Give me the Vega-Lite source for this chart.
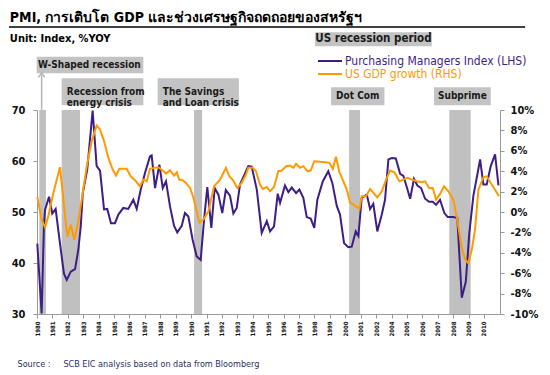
{
  "$schema": "https://vega.github.io/schema/vega-lite/v6.json",
  "width": 463,
  "height": 204,
  "autosize": "none",
  "padding": {"left": 37, "top": 110, "right": 50, "bottom": 61},
  "background": "white",
  "config": {
    "view": {"stroke": null},
    "font": "DejaVu Sans Condensed, DejaVu Sans, sans-serif",
    "axis": {"grid": false, "tickSize": 4, "tickColor": "#999999", "domainColor": "#999999", "labelFontWeight": "bold", "labelColor": "#111111"},
    "axisX": {"labelFontSize": 6, "labelPadding": 3, "labelBound": false, "labelFlush": false, "labelAngle": 270},
    "axisY": {"labelFontSize": 11}
  },
  "datasets": {
    "recessions": [
      {"start": 1980.15, "end": 1980.58},
      {"start": 1981.6, "end": 1982.79},
      {"start": 1990.19, "end": 1990.71},
      {"start": 2000.25, "end": 2000.96},
      {"start": 2007.75, "end": 2009.14}
    ],
    "boxes": [
      {"x1": 1998.04, "x2": 2006.61, "top": 85.24, "bottom": 82.48},
      {"x1": 1979.98, "x2": 1986.9, "top": 80.43, "bottom": 77.22},
      {"x1": 1981.6, "x2": 1986.9, "top": 76.24, "bottom": 70.92},
      {"x1": 1987.83, "x2": 1993.1, "top": 76.24, "bottom": 70.92},
      {"x1": 1999.08, "x2": 2003.08, "top": 74.45, "bottom": 70.92},
      {"x1": 2006.76, "x2": 2010.44, "top": 74.45, "bottom": 70.92}
    ],
    "notes": [
      {"kind": "legend", "year": 2001.83, "level": 83.86, "text": "US recession period"},
      {"kind": "box", "year": 1983.4, "level": 78.83, "text": "W-Shaped recession"},
      {"kind": "box", "year": 2000.81, "level": 72.7, "text": "Dot Com"},
      {"kind": "box", "year": 2008.6, "level": 72.7, "text": "Subprime"},
      {"kind": "two", "year": 1981.93, "level": 73.6, "text": "Recession from\nenergy crisis"},
      {"kind": "two", "year": 1988.16, "level": 73.6, "text": "The Savings\nand Loan crisis"},
      {"kind": "title", "year": 1978.24, "level": 87.3, "text": "PMI, การเติบโต GDP และช่วงเศรษฐกิจถดถอยของสหรัฐฯ"},
      {"kind": "sub", "year": 1978.24, "level": 84.0, "text": "Unit: Index, %YOY"}
    ],
    "underline": [{"x1": 1978.18, "x2": 2012.67, "level": 86.28}],
    "arrow": [{"year": 1980.3, "from": 70, "to": 76.9}],
    "pmi": [
      {"year": 1980.02, "value": 43.8}, {"year": 1980.30, "value": 30.1}, {"year": 1980.45, "value": 47.2},
      {"year": 1980.52, "value": 50.4}, {"year": 1980.78, "value": 53.0}, {"year": 1980.99, "value": 49.7},
      {"year": 1981.21, "value": 50.6}, {"year": 1981.38, "value": 46.5}, {"year": 1981.60, "value": 41.3},
      {"year": 1981.75, "value": 37.9}, {"year": 1981.93, "value": 36.7}, {"year": 1982.19, "value": 38.3},
      {"year": 1982.47, "value": 38.8}, {"year": 1982.68, "value": 42.6}, {"year": 1982.84, "value": 47.2},
      {"year": 1982.97, "value": 53.7}, {"year": 1983.26, "value": 58.3}, {"year": 1983.61, "value": 69.9},
      {"year": 1983.87, "value": 59.0}, {"year": 1984.09, "value": 58.1}, {"year": 1984.35, "value": 50.5},
      {"year": 1984.56, "value": 50.6}, {"year": 1984.80, "value": 47.8}, {"year": 1985.06, "value": 47.8},
      {"year": 1985.28, "value": 49.5}, {"year": 1985.60, "value": 50.8}, {"year": 1985.92, "value": 50.6},
      {"year": 1986.25, "value": 52.4}, {"year": 1986.47, "value": 50.6}, {"year": 1986.73, "value": 54.4},
      {"year": 1987.01, "value": 57.7}, {"year": 1987.33, "value": 60.9}, {"year": 1987.44, "value": 61.1},
      {"year": 1987.66, "value": 54.7}, {"year": 1987.94, "value": 59.3}, {"year": 1988.16, "value": 54.7},
      {"year": 1988.37, "value": 56.0}, {"year": 1988.63, "value": 51.1}, {"year": 1988.89, "value": 47.3},
      {"year": 1989.10, "value": 46.0}, {"year": 1989.39, "value": 47.3}, {"year": 1989.60, "value": 49.8},
      {"year": 1989.82, "value": 49.1}, {"year": 1990.10, "value": 44.5}, {"year": 1990.36, "value": 41.3},
      {"year": 1990.62, "value": 40.6}, {"year": 1990.84, "value": 48.5}, {"year": 1991.05, "value": 54.9},
      {"year": 1991.31, "value": 46.9}, {"year": 1991.53, "value": 54.7}, {"year": 1991.77, "value": 53.4},
      {"year": 1992.02, "value": 49.8}, {"year": 1992.25, "value": 54.3}, {"year": 1992.52, "value": 53.2},
      {"year": 1992.74, "value": 49.7}, {"year": 1992.96, "value": 50.8}, {"year": 1993.17, "value": 55.4},
      {"year": 1993.71, "value": 59.0}, {"year": 1993.93, "value": 58.9}, {"year": 1994.26, "value": 54.4},
      {"year": 1994.58, "value": 45.9}, {"year": 1994.91, "value": 48.2}, {"year": 1995.12, "value": 46.2},
      {"year": 1995.38, "value": 47.2}, {"year": 1995.62, "value": 53.6}, {"year": 1995.77, "value": 51.8},
      {"year": 1996.09, "value": 55.2}, {"year": 1996.31, "value": 53.9}, {"year": 1996.53, "value": 54.8},
      {"year": 1996.81, "value": 53.7}, {"year": 1997.02, "value": 54.4}, {"year": 1997.28, "value": 52.8},
      {"year": 1997.50, "value": 49.0}, {"year": 1997.76, "value": 48.7}, {"year": 1997.99, "value": 46.9},
      {"year": 1998.19, "value": 52.4}, {"year": 1998.54, "value": 56.0}, {"year": 1998.90, "value": 58.0},
      {"year": 1999.16, "value": 55.7}, {"year": 1999.45, "value": 51.2}, {"year": 1999.66, "value": 49.5},
      {"year": 1999.92, "value": 43.9}, {"year": 2000.20, "value": 43.1}, {"year": 2000.42, "value": 43.2},
      {"year": 2000.68, "value": 46.2}, {"year": 2000.85, "value": 45.3}, {"year": 2001.07, "value": 52.8},
      {"year": 2001.40, "value": 53.4}, {"year": 2001.61, "value": 50.6}, {"year": 2001.82, "value": 51.6},
      {"year": 2002.16, "value": 46.2}, {"year": 2002.74, "value": 49.5}, {"year": 2003.16, "value": 52.4},
      {"year": 2003.60, "value": 60.3}, {"year": 2004.02, "value": 60.6}, {"year": 2004.28, "value": 60.5},
      {"year": 2004.56, "value": 57.5}, {"year": 2004.77, "value": 57.1}, {"year": 2004.99, "value": 54.9},
      {"year": 2005.21, "value": 52.6}, {"year": 2005.46, "value": 56.5}, {"year": 2005.68, "value": 55.2},
      {"year": 2005.92, "value": 54.7}, {"year": 2006.18, "value": 52.6}, {"year": 2006.44, "value": 52.0},
      {"year": 2006.68, "value": 52.0}, {"year": 2006.89, "value": 51.4}, {"year": 2007.15, "value": 52.4},
      {"year": 2007.43, "value": 49.8}, {"year": 2007.65, "value": 49.0}, {"year": 2008.01, "value": 49.0},
      {"year": 2008.27, "value": 48.8}, {"year": 2008.56, "value": 33.2}, {"year": 2008.82, "value": 36.3},
      {"year": 2009.05, "value": 45.9}, {"year": 2009.31, "value": 53.1}, {"year": 2009.75, "value": 60.3},
      {"year": 2009.96, "value": 55.4}, {"year": 2010.18, "value": 55.4}, {"year": 2010.44, "value": 59.0},
      {"year": 2010.72, "value": 61.3}, {"year": 2010.94, "value": 55.2}
    ],
    "gdp": [
      {"year": 1980.02, "value": 1.48}, {"year": 1980.30, "value": -0.76}, {"year": 1980.52, "value": -1.48},
      {"year": 1980.73, "value": -0.43}, {"year": 1981.06, "value": 1.87}, {"year": 1981.49, "value": 4.39},
      {"year": 1981.71, "value": 1.21}, {"year": 1981.97, "value": -2.46}, {"year": 1982.19, "value": -1.25},
      {"year": 1982.42, "value": -2.73}, {"year": 1982.68, "value": -0.93}, {"year": 1982.90, "value": 1.21},
      {"year": 1983.23, "value": 4.49}, {"year": 1983.55, "value": 6.95}, {"year": 1983.87, "value": 8.49},
      {"year": 1984.09, "value": 8.1}, {"year": 1984.35, "value": 6.95}, {"year": 1984.63, "value": 5.31},
      {"year": 1984.91, "value": 4.16}, {"year": 1985.13, "value": 3.57}, {"year": 1985.34, "value": 4.23},
      {"year": 1985.82, "value": 4.23}, {"year": 1986.08, "value": 3.5}, {"year": 1986.42, "value": 3.01},
      {"year": 1986.68, "value": 2.52}, {"year": 1986.90, "value": 3.18}, {"year": 1987.12, "value": 3.01},
      {"year": 1987.33, "value": 4.23}, {"year": 1987.66, "value": 4.33}, {"year": 1987.87, "value": 4.39},
      {"year": 1988.16, "value": 4.06}, {"year": 1988.37, "value": 3.77}, {"year": 1988.63, "value": 4.1},
      {"year": 1988.89, "value": 3.57}, {"year": 1989.07, "value": 3.9}, {"year": 1989.23, "value": 3.18},
      {"year": 1989.45, "value": 3.11}, {"year": 1989.67, "value": 2.85}, {"year": 1989.93, "value": 2.36},
      {"year": 1990.17, "value": 1.3}, {"year": 1990.36, "value": 0.06}, {"year": 1990.53, "value": -1.02},
      {"year": 1990.79, "value": -0.76}, {"year": 1991.12, "value": 0.06}, {"year": 1991.49, "value": 2.52},
      {"year": 1991.88, "value": 3.18}, {"year": 1992.26, "value": 4.33}, {"year": 1992.48, "value": 3.5},
      {"year": 1992.74, "value": 3.08}, {"year": 1993.00, "value": 2.36}, {"year": 1993.28, "value": 2.85},
      {"year": 1993.56, "value": 3.67}, {"year": 1993.71, "value": 4.33}, {"year": 1994.00, "value": 4.33},
      {"year": 1994.21, "value": 4.0}, {"year": 1994.47, "value": 2.69}, {"year": 1994.65, "value": 2.26},
      {"year": 1994.91, "value": 2.46}, {"year": 1995.12, "value": 2.03}, {"year": 1995.38, "value": 2.46},
      {"year": 1995.66, "value": 4.0}, {"year": 1995.88, "value": 4.06}, {"year": 1996.16, "value": 4.49},
      {"year": 1996.42, "value": 4.56}, {"year": 1996.63, "value": 4.33}, {"year": 1996.81, "value": 4.72},
      {"year": 1997.07, "value": 4.33}, {"year": 1997.28, "value": 4.49}, {"year": 1997.54, "value": 4.0},
      {"year": 1997.76, "value": 4.06}, {"year": 1997.99, "value": 4.98}, {"year": 1998.36, "value": 4.92},
      {"year": 1998.69, "value": 4.88}, {"year": 1998.97, "value": 4.82}, {"year": 1999.19, "value": 4.23},
      {"year": 1999.40, "value": 5.41}, {"year": 1999.62, "value": 3.9}, {"year": 1999.88, "value": 3.01},
      {"year": 2000.10, "value": 2.19}, {"year": 2000.31, "value": 0.94}, {"year": 2000.64, "value": 0.62},
      {"year": 2000.92, "value": 0.3}, {"year": 2001.07, "value": 1.54}, {"year": 2001.35, "value": 1.54},
      {"year": 2001.61, "value": 2.26}, {"year": 2001.87, "value": 1.8}, {"year": 2002.16, "value": 1.44},
      {"year": 2002.74, "value": 2.03}, {"year": 2003.30, "value": 3.18}, {"year": 2003.82, "value": 4.06},
      {"year": 2004.19, "value": 3.9}, {"year": 2004.51, "value": 3.01}, {"year": 2004.77, "value": 3.18},
      {"year": 2005.03, "value": 3.35}, {"year": 2005.32, "value": 3.18}, {"year": 2005.64, "value": 3.01},
      {"year": 2005.92, "value": 2.91}, {"year": 2006.18, "value": 3.01}, {"year": 2006.44, "value": 2.36},
      {"year": 2006.68, "value": 2.36}, {"year": 2006.89, "value": 1.21}, {"year": 2007.15, "value": 1.77},
      {"year": 2007.41, "value": 2.52}, {"year": 2007.69, "value": 2.03}, {"year": 2008.01, "value": 1.21},
      {"year": 2008.27, "value": -0.76}, {"year": 2008.56, "value": -3.54}, {"year": 2008.78, "value": -4.63},
      {"year": 2008.99, "value": -5.02}, {"year": 2009.21, "value": -3.71}, {"year": 2009.42, "value": -1.74},
      {"year": 2009.64, "value": 2.19}, {"year": 2009.96, "value": 3.41}, {"year": 2010.18, "value": 3.5},
      {"year": 2010.44, "value": 2.85}, {"year": 2010.72, "value": 2.19}, {"year": 2010.97, "value": 1.54}
    ]
  },
  "layer": [
    {
      "layer": [
        {
          "data": {"name": "recessions"},
          "mark": {"type": "rect", "color": "#c0c0c0"},
          "encoding": {
            "x": {"field": "start", "type": "quantitative", "scale": {"domain": [1980, 2002, 2004, 2011.04], "range": [0, 339.08, 354.5, 463], "nice": false, "zero": false},
              "axis": {"values": [1980,1981,1982,1983,1984,1985,1986,1987,1988,1989,1990,1991,1992,1993,1994,1995,1996,1997,1998,1999,2000,2001,2002,2004,2005,2006,2007,2008,2009,2010], "format": "d", "labelAngle": 270, "labelOverlap": false, "title": "Source :\u00a0\u00a0\u00a0\u00a0\u00a0SCB EIC analysis based on data from Bloomberg", "titleX": -20, "titleY": 49, "titleAnchor": "start", "titleAlign": "left", "titleBaseline": "middle", "titleFontSize": 9, "titleFontWeight": "normal", "titleColor": "#1f2f5f"}},
            "x2": {"field": "end"}
          }
        },
        {
          "data": {"name": "boxes"},
          "mark": {"type": "rect", "color": "#c3c3c3"},
          "encoding": {
            "x": {"field": "x1", "type": "quantitative", "scale": {"domain": [1980, 2002, 2004, 2011.04], "range": [0, 339.08, 354.5, 463], "nice": false, "zero": false},
              "axis": {"values": [1980,1981,1982,1983,1984,1985,1986,1987,1988,1989,1990,1991,1992,1993,1994,1995,1996,1997,1998,1999,2000,2001,2002,2004,2005,2006,2007,2008,2009,2010], "format": "d", "labelAngle": 270, "labelOverlap": false, "title": "Source :\u00a0\u00a0\u00a0\u00a0\u00a0SCB EIC analysis based on data from Bloomberg", "titleX": -20, "titleY": 49, "titleAnchor": "start", "titleAlign": "left", "titleBaseline": "middle", "titleFontSize": 9, "titleFontWeight": "normal", "titleColor": "#1f2f5f"}},
            "x2": {"field": "x2"},
            "y": {"field": "top", "type": "quantitative", "scale": {"domain": [30, 70], "nice": false, "zero": false}, "axis": {"values": [30, 40, 50, 60, 70], "title": null, "labelPadding": 8}},
            "y2": {"field": "bottom"}
          }
        },
        {
          "data": {"name": "arrow"},
          "mark": {"type": "rule", "color": "#b4b4b4", "strokeWidth": 1.5},
          "encoding": {
            "x": {"field": "year", "type": "quantitative", "scale": {"domain": [1980, 2002, 2004, 2011.04], "range": [0, 339.08, 354.5, 463], "nice": false, "zero": false},
              "axis": {"values": [1980,1981,1982,1983,1984,1985,1986,1987,1988,1989,1990,1991,1992,1993,1994,1995,1996,1997,1998,1999,2000,2001,2002,2004,2005,2006,2007,2008,2009,2010], "format": "d", "labelAngle": 270, "labelOverlap": false, "title": "Source :\u00a0\u00a0\u00a0\u00a0\u00a0SCB EIC analysis based on data from Bloomberg", "titleX": -20, "titleY": 49, "titleAnchor": "start", "titleAlign": "left", "titleBaseline": "middle", "titleFontSize": 9, "titleFontWeight": "normal", "titleColor": "#1f2f5f"}},
            "y": {"field": "from", "type": "quantitative", "scale": {"domain": [30, 70], "nice": false, "zero": false}, "axis": {"values": [30, 40, 50, 60, 70], "title": null, "labelPadding": 8}},
            "y2": {"field": "to"}
          }
        },
        {
          "data": {"name": "arrow"},
          "mark": {"type": "point", "shape": "M-1,0.8L0,-0.6L1,0.8", "filled": false, "color": "#b4b4b4", "strokeWidth": 1.5, "size": 40, "opacity": 1},
          "encoding": {
            "x": {"field": "year", "type": "quantitative", "scale": {"domain": [1980, 2002, 2004, 2011.04], "range": [0, 339.08, 354.5, 463], "nice": false, "zero": false},
              "axis": {"values": [1980,1981,1982,1983,1984,1985,1986,1987,1988,1989,1990,1991,1992,1993,1994,1995,1996,1997,1998,1999,2000,2001,2002,2004,2005,2006,2007,2008,2009,2010], "format": "d", "labelAngle": 270, "labelOverlap": false, "title": "Source :\u00a0\u00a0\u00a0\u00a0\u00a0SCB EIC analysis based on data from Bloomberg", "titleX": -20, "titleY": 49, "titleAnchor": "start", "titleAlign": "left", "titleBaseline": "middle", "titleFontSize": 9, "titleFontWeight": "normal", "titleColor": "#1f2f5f"}},
            "y": {"field": "to", "type": "quantitative", "scale": {"domain": [30, 70], "nice": false, "zero": false}, "axis": {"values": [30, 40, 50, 60, 70], "title": null, "labelPadding": 8}}
          }
        },
        {
          "data": {"name": "underline"},
          "mark": {"type": "rule", "color": "#000000", "strokeWidth": 1.5},
          "encoding": {
            "x": {"field": "x1", "type": "quantitative", "scale": {"domain": [1980, 2002, 2004, 2011.04], "range": [0, 339.08, 354.5, 463], "nice": false, "zero": false},
              "axis": {"values": [1980,1981,1982,1983,1984,1985,1986,1987,1988,1989,1990,1991,1992,1993,1994,1995,1996,1997,1998,1999,2000,2001,2002,2004,2005,2006,2007,2008,2009,2010], "format": "d", "labelAngle": 270, "labelOverlap": false, "title": "Source :\u00a0\u00a0\u00a0\u00a0\u00a0SCB EIC analysis based on data from Bloomberg", "titleX": -20, "titleY": 49, "titleAnchor": "start", "titleAlign": "left", "titleBaseline": "middle", "titleFontSize": 9, "titleFontWeight": "normal", "titleColor": "#1f2f5f"}},
            "x2": {"field": "x2"},
            "y": {"field": "level", "type": "quantitative", "scale": {"domain": [30, 70], "nice": false, "zero": false}, "axis": {"values": [30, 40, 50, 60, 70], "title": null, "labelPadding": 8}}
          }
        },
        {
          "data": {"name": "notes"},
          "transform": [{"filter": "datum.kind == 'box'"}],
          "mark": {"type": "text", "align": "center", "baseline": "middle", "fontWeight": "bold", "fontSize": 10, "color": "#1a1a1a"},
          "encoding": {
            "x": {"field": "year", "type": "quantitative", "scale": {"domain": [1980, 2002, 2004, 2011.04], "range": [0, 339.08, 354.5, 463], "nice": false, "zero": false},
              "axis": {"values": [1980,1981,1982,1983,1984,1985,1986,1987,1988,1989,1990,1991,1992,1993,1994,1995,1996,1997,1998,1999,2000,2001,2002,2004,2005,2006,2007,2008,2009,2010], "format": "d", "labelAngle": 270, "labelOverlap": false, "title": "Source :\u00a0\u00a0\u00a0\u00a0\u00a0SCB EIC analysis based on data from Bloomberg", "titleX": -20, "titleY": 49, "titleAnchor": "start", "titleAlign": "left", "titleBaseline": "middle", "titleFontSize": 9, "titleFontWeight": "normal", "titleColor": "#1f2f5f"}},
            "y": {"field": "level", "type": "quantitative", "scale": {"domain": [30, 70], "nice": false, "zero": false}, "axis": {"values": [30, 40, 50, 60, 70], "title": null, "labelPadding": 8}},
            "text": {"field": "text"}
          }
        },
        {
          "data": {"name": "notes"},
          "transform": [{"filter": "datum.kind == 'legend'"}],
          "mark": {"type": "text", "align": "center", "baseline": "middle", "fontWeight": "bold", "fontSize": 11.5, "color": "#1a1a1a"},
          "encoding": {
            "x": {"field": "year", "type": "quantitative", "scale": {"domain": [1980, 2002, 2004, 2011.04], "range": [0, 339.08, 354.5, 463], "nice": false, "zero": false},
              "axis": {"values": [1980,1981,1982,1983,1984,1985,1986,1987,1988,1989,1990,1991,1992,1993,1994,1995,1996,1997,1998,1999,2000,2001,2002,2004,2005,2006,2007,2008,2009,2010], "format": "d", "labelAngle": 270, "labelOverlap": false, "title": "Source :\u00a0\u00a0\u00a0\u00a0\u00a0SCB EIC analysis based on data from Bloomberg", "titleX": -20, "titleY": 49, "titleAnchor": "start", "titleAlign": "left", "titleBaseline": "middle", "titleFontSize": 9, "titleFontWeight": "normal", "titleColor": "#1f2f5f"}},
            "y": {"field": "level", "type": "quantitative", "scale": {"domain": [30, 70], "nice": false, "zero": false}, "axis": {"values": [30, 40, 50, 60, 70], "title": null, "labelPadding": 8}},
            "text": {"field": "text"}
          }
        },
        {
          "data": {"name": "notes"},
          "transform": [{"filter": "datum.kind == 'two'"}],
          "mark": {"type": "text", "align": "left", "baseline": "middle", "fontWeight": "bold", "fontSize": 10, "lineBreak": "\n", "lineHeight": 11, "color": "#1a1a1a"},
          "encoding": {
            "x": {"field": "year", "type": "quantitative", "scale": {"domain": [1980, 2002, 2004, 2011.04], "range": [0, 339.08, 354.5, 463], "nice": false, "zero": false},
              "axis": {"values": [1980,1981,1982,1983,1984,1985,1986,1987,1988,1989,1990,1991,1992,1993,1994,1995,1996,1997,1998,1999,2000,2001,2002,2004,2005,2006,2007,2008,2009,2010], "format": "d", "labelAngle": 270, "labelOverlap": false, "title": "Source :\u00a0\u00a0\u00a0\u00a0\u00a0SCB EIC analysis based on data from Bloomberg", "titleX": -20, "titleY": 49, "titleAnchor": "start", "titleAlign": "left", "titleBaseline": "middle", "titleFontSize": 9, "titleFontWeight": "normal", "titleColor": "#1f2f5f"}},
            "y": {"field": "level", "type": "quantitative", "scale": {"domain": [30, 70], "nice": false, "zero": false}, "axis": {"values": [30, 40, 50, 60, 70], "title": null, "labelPadding": 8}},
            "text": {"field": "text"}
          }
        },
        {
          "data": {"name": "notes"},
          "transform": [{"filter": "datum.kind == 'title'"}],
          "mark": {"type": "text", "align": "left", "baseline": "alphabetic", "fontWeight": "bold", "fontSize": 14, "color": "#000000"},
          "encoding": {
            "x": {"field": "year", "type": "quantitative", "scale": {"domain": [1980, 2002, 2004, 2011.04], "range": [0, 339.08, 354.5, 463], "nice": false, "zero": false},
              "axis": {"values": [1980,1981,1982,1983,1984,1985,1986,1987,1988,1989,1990,1991,1992,1993,1994,1995,1996,1997,1998,1999,2000,2001,2002,2004,2005,2006,2007,2008,2009,2010], "format": "d", "labelAngle": 270, "labelOverlap": false, "title": "Source :\u00a0\u00a0\u00a0\u00a0\u00a0SCB EIC analysis based on data from Bloomberg", "titleX": -20, "titleY": 49, "titleAnchor": "start", "titleAlign": "left", "titleBaseline": "middle", "titleFontSize": 9, "titleFontWeight": "normal", "titleColor": "#1f2f5f"}},
            "y": {"field": "level", "type": "quantitative", "scale": {"domain": [30, 70], "nice": false, "zero": false}, "axis": {"values": [30, 40, 50, 60, 70], "title": null, "labelPadding": 8}},
            "text": {"field": "text"}
          }
        },
        {
          "data": {"name": "notes"},
          "transform": [{"filter": "datum.kind == 'sub'"}],
          "mark": {"type": "text", "align": "left", "baseline": "middle", "fontWeight": "bold", "fontSize": 11, "color": "#000000"},
          "encoding": {
            "x": {"field": "year", "type": "quantitative", "scale": {"domain": [1980, 2002, 2004, 2011.04], "range": [0, 339.08, 354.5, 463], "nice": false, "zero": false},
              "axis": {"values": [1980,1981,1982,1983,1984,1985,1986,1987,1988,1989,1990,1991,1992,1993,1994,1995,1996,1997,1998,1999,2000,2001,2002,2004,2005,2006,2007,2008,2009,2010], "format": "d", "labelAngle": 270, "labelOverlap": false, "title": "Source :\u00a0\u00a0\u00a0\u00a0\u00a0SCB EIC analysis based on data from Bloomberg", "titleX": -20, "titleY": 49, "titleAnchor": "start", "titleAlign": "left", "titleBaseline": "middle", "titleFontSize": 9, "titleFontWeight": "normal", "titleColor": "#1f2f5f"}},
            "y": {"field": "level", "type": "quantitative", "scale": {"domain": [30, 70], "nice": false, "zero": false}, "axis": {"values": [30, 40, 50, 60, 70], "title": null, "labelPadding": 8}},
            "text": {"field": "text"}
          }
        },
        {
          "mark": {"type": "rule", "color": "#ff0000", "strokeDash": [5, 4], "strokeWidth": 1.5},
          "encoding": {
            "y": {"datum": 50, "type": "quantitative", "scale": {"domain": [30, 70], "nice": false, "zero": false}, "axis": {"values": [30, 40, 50, 60, 70], "title": null, "labelPadding": 8}}
          }
        },
        {
          "data": {"name": "pmi"},
          "mark": {"type": "line", "strokeWidth": 2},
          "encoding": {
            "x": {"field": "year", "type": "quantitative", "scale": {"domain": [1980, 2002, 2004, 2011.04], "range": [0, 339.08, 354.5, 463], "nice": false, "zero": false},
              "axis": {"values": [1980,1981,1982,1983,1984,1985,1986,1987,1988,1989,1990,1991,1992,1993,1994,1995,1996,1997,1998,1999,2000,2001,2002,2004,2005,2006,2007,2008,2009,2010], "format": "d", "labelAngle": 270, "labelOverlap": false, "title": "Source :\u00a0\u00a0\u00a0\u00a0\u00a0SCB EIC analysis based on data from Bloomberg", "titleX": -20, "titleY": 49, "titleAnchor": "start", "titleAlign": "left", "titleBaseline": "middle", "titleFontSize": 9, "titleFontWeight": "normal", "titleColor": "#1f2f5f"}},
            "y": {"field": "value", "type": "quantitative", "scale": {"domain": [30, 70], "nice": false, "zero": false}, "axis": {"values": [30, 40, 50, 60, 70], "title": null, "labelPadding": 8}},
            "color": {
              "datum": "Purchasing Managers Index (LHS)",
              "scale": {"domain": ["Purchasing Managers Index (LHS)", "US GDP growth (RHS)"], "range": ["#3d1e87", "#ff9a00"]},
              "legend": {
                "orient": "none", "legendX": 287, "legendY": -55, "title": null, "padding": 0,
                "symbolType": "M-3,0L3,0", "symbolSize": 64, "symbolStrokeWidth": 2,
                "labelFontSize": 12, "labelOffset": 9, "labelLimit": 300, "rowPadding": 1,
                "labelColor": {"expr": "datum.value == 'US GDP growth (RHS)' ? '#ff9a00' : '#3d1e87'"}
              }
            }
          }
        }
      ]
    },
    {
      "data": {"name": "gdp"},
      "mark": {"type": "line", "strokeWidth": 2},
      "encoding": {
        "x": {"field": "year", "type": "quantitative", "scale": {"domain": [1980, 2002, 2004, 2011.04], "range": [0, 339.08, 354.5, 463], "nice": false, "zero": false},
          "axis": {"values": [1980,1981,1982,1983,1984,1985,1986,1987,1988,1989,1990,1991,1992,1993,1994,1995,1996,1997,1998,1999,2000,2001,2002,2004,2005,2006,2007,2008,2009,2010], "format": "d", "labelAngle": 270, "labelOverlap": false, "title": "Source :\u00a0\u00a0\u00a0\u00a0\u00a0SCB EIC analysis based on data from Bloomberg", "titleX": -20, "titleY": 49, "titleAnchor": "start", "titleAlign": "left", "titleBaseline": "middle", "titleFontSize": 9, "titleFontWeight": "normal", "titleColor": "#1f2f5f"}},
        "y": {
          "field": "value", "type": "quantitative",
          "scale": {"domain": [-10, 10], "nice": false, "zero": false},
          "axis": {
            "orient": "right", "values": [-10, -8, -6, -4, -2, 0, 2, 4, 6, 8, 10],
            "labelExpr": "datum.value + '%'", "title": null, "labelPadding": 6
          }
        },
        "color": {
          "datum": "US GDP growth (RHS)",
          "scale": {"domain": ["Purchasing Managers Index (LHS)", "US GDP growth (RHS)"], "range": ["#3d1e87", "#ff9a00"]}
        }
      }
    }
  ],
  "resolve": {"scale": {"y": "independent"}}
}
